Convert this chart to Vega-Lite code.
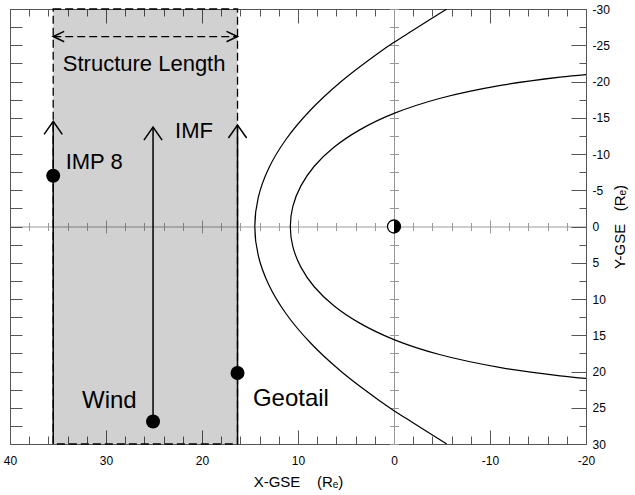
{
  "$schema": "https://vega.github.io/schema/vega-lite/v6.json",
  "width": 576,
  "height": 435,
  "autosize": "none",
  "padding": {"left": 10, "top": 9, "right": 49, "bottom": 51},
  "background": "white",
  "config": {
    "view": {"stroke": null},
    "font": "Liberation Sans",
    "axis": {
      "grid": false,
      "domainColor": "#555",
      "tickColor": "#555",
      "labelColor": "black",
      "titleColor": "black",
      "labelFont": "Liberation Sans",
      "titleFont": "Liberation Sans",
      "labelFontSize": 12,
      "titleFontSize": 15,
      "titleFontWeight": "normal",
      "labelFlush": false,
      "labelOverlap": false,
      "domainWidth": 1,
      "tickWidth": 1
    }
  },
  "datasets": {
    "region": [{"x1": 35.5, "x2": 16.3, "y1": -30, "y2": 30}],
    "span": [{"x1": 35.5, "x2": 16.3, "y": -26.2}],
    "lines": [
      {"name": "IMP 8", "x": 35.5, "y1": 30, "y2": -14.5},
      {"name": "Wind", "x": 25.1, "y1": 26.9, "y2": -13.7},
      {"name": "Geotail", "x": 16.3, "y1": 30, "y2": -14.0}
    ],
    "sats": [
      {"name": "IMP 8", "x": 35.5, "y": -7.0},
      {"name": "Wind", "x": 25.1, "y": 26.9},
      {"name": "Geotail", "x": 16.3, "y": 20.2}
    ],
    "earth": [{"x": 0, "y": 0}],
    "labels": [
      {"label": "Structure Length", "x": 34.5, "y": -21.4},
      {"label": "IMP 8", "x": 34.2, "y": -8.0},
      {"label": "IMF", "x": 22.8, "y": -12.2},
      {"label": "Wind", "x": 32.5, "y": 25.0},
      {"label": "Geotail", "x": 14.7, "y": 24.8}
    ],
    "curves": [
      {"curve": "bow", "x": -5.5, "y": -30},
      {"curve": "bow", "x": -1.9, "y": -27},
      {"curve": "bow", "x": 0, "y": -25.4},
      {"curve": "bow", "x": 1.54, "y": -24},
      {"curve": "bow", "x": 5.5, "y": -20},
      {"curve": "bow", "x": 8.74, "y": -16},
      {"curve": "bow", "x": 11.26, "y": -12},
      {"curve": "bow", "x": 13.06, "y": -8},
      {"curve": "bow", "x": 14.14, "y": -4},
      {"curve": "bow", "x": 14.5, "y": 0},
      {"curve": "bow", "x": 14.14, "y": 4},
      {"curve": "bow", "x": 13.06, "y": 8},
      {"curve": "bow", "x": 11.26, "y": 12},
      {"curve": "bow", "x": 8.74, "y": 16},
      {"curve": "bow", "x": 5.5, "y": 20},
      {"curve": "bow", "x": 1.54, "y": 24},
      {"curve": "bow", "x": 0, "y": 25.4},
      {"curve": "bow", "x": -1.9, "y": 27},
      {"curve": "bow", "x": -5.5, "y": 30},
      {"curve": "mp", "x": -20, "y": -20.95},
      {"curve": "mp", "x": -17.3, "y": -20.6},
      {"curve": "mp", "x": -11.26, "y": -19.5},
      {"curve": "mp", "x": -4.73, "y": -17.66},
      {"curve": "mp", "x": 0, "y": -15.6},
      {"curve": "mp", "x": 3.57, "y": -13.33},
      {"curve": "mp", "x": 6.29, "y": -10.89},
      {"curve": "mp", "x": 8.31, "y": -8.31},
      {"curve": "mp", "x": 9.7, "y": -5.6},
      {"curve": "mp", "x": 10.53, "y": -2.82},
      {"curve": "mp", "x": 10.8, "y": 0},
      {"curve": "mp", "x": 10.53, "y": 2.82},
      {"curve": "mp", "x": 9.7, "y": 5.6},
      {"curve": "mp", "x": 8.31, "y": 8.31},
      {"curve": "mp", "x": 6.29, "y": 10.89},
      {"curve": "mp", "x": 3.57, "y": 13.33},
      {"curve": "mp", "x": 0, "y": 15.6},
      {"curve": "mp", "x": -4.73, "y": 17.66},
      {"curve": "mp", "x": -11.26, "y": 19.5},
      {"curve": "mp", "x": -17.3, "y": 20.6},
      {"curve": "mp", "x": -20, "y": 20.95}
    ]
  },
  "layer": [
    {
      "data": {"name": "region"},
      "mark": {"type": "rect", "fill": "black", "fillOpacity": 0.18, "stroke": "black", "strokeWidth": 1.3, "strokeDash": [8, 4]},
      "encoding": {
        "x": {"field": "x1", "type": "quantitative", "scale": {"domain": [40, -20], "nice": false, "zero": false},
          "axis": {"orient": "bottom", "values": [40, 30, 20, 10, 0, -10, -20], "tickSize": -14, "labelPadding": 25,
            "labelExpr": "datum.value < 0 ? '-' + (-datum.value) : '' + datum.value",
            "title": "X-GSE\u00a0\u00a0\u00a0\u00a0(Rₑ)", "titlePadding": 8}},
        "x2": {"field": "x2"},
        "y": {"field": "y1", "type": "quantitative", "scale": {"domain": [30, -30], "nice": false, "zero": false},
          "axis": {"orient": "right", "values": [-30, -25, -20, -15, -10, -5, 0, 5, 10, 15, 20, 25, 30], "tickSize": -15, "labelPadding": 21,
            "labelExpr": "datum.value < 0 ? '-' + (-datum.value) : '' + datum.value",
            "title": "Y-GSE\u00a0\u00a0\u00a0(Rₑ)", "titleAngle": -90, "titleBaseline": "top", "titlePadding": 3}},
        "y2": {"field": "y2"}
      }
    },
    {
      "data": {"name": "span"},
      "mark": {"type": "rule", "color": "black", "strokeWidth": 1.2, "strokeDash": [8, 4]},
      "encoding": {
        "x": {"field": "x1", "type": "quantitative", "scale": {"domain": [40, -20], "nice": false, "zero": false},
          "axis": {"orient": "bottom", "values": [38, 36, 34, 32, 28, 26, 24, 22, 18, 16, 14, 12, 8, 6, 4, 2, -2, -4, -6, -8, -12, -14, -16, -18], "tickSize": -8, "labels": false, "domain": false, "title": null}},
        "x2": {"field": "x2"},
        "y": {"field": "y", "type": "quantitative", "scale": {"domain": [30, -30], "nice": false, "zero": false},
          "axis": {"orient": "right", "values": [-27.5, -22.5, -17.5, -12.5, -7.5, -2.5, 2.5, 7.5, 12.5, 17.5, 22.5, 27.5], "tickSize": -7, "labels": false, "domain": false, "title": null}}
      }
    },
    {
      "data": {"name": "curves"},
      "mark": {"type": "line", "color": "black", "strokeWidth": 1.2, "interpolate": "catmull-rom", "clip": true},
      "encoding": {
        "x": {"field": "x", "type": "quantitative", "scale": {"domain": [40, -20], "nice": false, "zero": false},
          "axis": {"orient": "top", "values": [40, 30, 20, 10, 0, -10, -20], "tickSize": -14, "labels": false, "title": null}},
        "y": {"field": "y", "type": "quantitative", "scale": {"domain": [30, -30], "nice": false, "zero": false},
          "axis": {"orient": "left", "values": [-30, -27.5, -25, -22.5, -20, -17.5, -15, -12.5, -10, -7.5, -5, -2.5, 0, 2.5, 5, 7.5, 10, 12.5, 15, 17.5, 20, 22.5, 25, 27.5, 30], "tickSize": -12, "labels": false, "title": null}},
        "detail": {"field": "curve"},
        "order": {"field": "y", "type": "quantitative"}
      }
    },
    {
      "data": {"name": "lines"},
      "mark": {"type": "rule", "color": "black", "strokeWidth": 1.5},
      "encoding": {
        "x": {"field": "x", "type": "quantitative", "scale": {"domain": [40, -20], "nice": false, "zero": false},
          "axis": {"orient": "top", "values": [38, 36, 34, 32, 28, 26, 24, 22, 18, 16, 14, 12, 8, 6, 4, 2, -2, -4, -6, -8, -12, -14, -16, -18], "tickSize": -7, "labels": false, "domain": false, "title": null}},
        "y": {"field": "y1", "type": "quantitative", "scale": {"domain": [30, -30], "nice": false, "zero": false},
          "axis": {"orient": "left", "offset": {"expr": "-width*2/3"}, "values": [-30, -27.5, -25, -22.5, -20, -17.5, -15, -12.5, -10, -7.5, -5, -2.5, 0, 2.5, 5, 7.5, 10, 12.5, 15, 17.5, 20, 22.5, 25, 27.5, 30], "tickSize": 4.5, "labels": false, "domainColor": "#999", "tickColor": "#999", "title": null}},
        "y2": {"field": "y2"}
      }
    },
    {
      "data": {"name": "lines"},
      "mark": {"type": "point", "shape": "M -0.7 1 L 0 0 L 0.7 1", "filled": false, "color": "black", "size": 676, "strokeWidth": 1.5, "opacity": 1},
      "encoding": {
        "x": {"field": "x", "type": "quantitative", "scale": {"domain": [40, -20], "nice": false, "zero": false},
          "axis": {"orient": "bottom", "offset": {"expr": "-height/2"}, "values": [38, 36, 34, 32, 28, 26, 24, 22, 18, 16, 14, 12, 8, 6, 4, 2, -2, -4, -6, -8, -12, -14, -16, -18], "tickSize": 4, "labels": false, "domainColor": "#999", "tickColor": "#999", "title": null}},
        "y": {"field": "y2", "type": "quantitative", "scale": {"domain": [30, -30], "nice": false, "zero": false},
          "axis": {"orient": "left", "offset": {"expr": "-width*2/3"}, "values": [-30, -27.5, -25, -22.5, -20, -17.5, -15, -12.5, -10, -7.5, -5, -2.5, 0, 2.5, 5, 7.5, 10, 12.5, 15, 17.5, 20, 22.5, 25, 27.5, 30], "tickSize": -4.5, "labels": false, "domain": false, "tickColor": "#999", "title": null}}
      }
    },
    {
      "data": {"name": "span"},
      "mark": {"type": "point", "shape": "M 1 -0.47 L 0 0 L 1 0.47", "filled": false, "color": "black", "size": 484, "strokeWidth": 1.5, "opacity": 1},
      "encoding": {
        "x": {"field": "x1", "type": "quantitative", "scale": {"domain": [40, -20], "nice": false, "zero": false},
          "axis": {"orient": "bottom", "offset": {"expr": "-height/2"}, "values": [38, 36, 34, 32, 28, 26, 24, 22, 18, 16, 14, 12, 8, 6, 4, 2, -2, -4, -6, -8, -12, -14, -16, -18], "tickSize": -4, "labels": false, "domain": false, "tickColor": "#999", "title": null}},
        "y": {"field": "y", "type": "quantitative", "scale": {"domain": [30, -30], "nice": false, "zero": false}, "axis": null}
      }
    },
    {
      "data": {"name": "span"},
      "mark": {"type": "point", "shape": "M -1 -0.47 L 0 0 L -1 0.47", "filled": false, "color": "black", "size": 484, "strokeWidth": 1.5, "opacity": 1},
      "encoding": {
        "x": {"field": "x2", "type": "quantitative", "scale": {"domain": [40, -20], "nice": false, "zero": false},
          "axis": {"orient": "bottom", "offset": {"expr": "-height/2"}, "values": [30, 20, 10, -10], "tickSize": 6.5, "labels": false, "domain": false, "tickColor": "#999", "title": null}},
        "y": {"field": "y", "type": "quantitative", "scale": {"domain": [30, -30], "nice": false, "zero": false}, "axis": null}
      }
    },
    {
      "data": {"name": "sats"},
      "mark": {"type": "point", "shape": "circle", "filled": true, "color": "black", "size": 196, "opacity": 1},
      "encoding": {
        "x": {"field": "x", "type": "quantitative", "scale": {"domain": [40, -20], "nice": false, "zero": false},
          "axis": {"orient": "bottom", "offset": {"expr": "-height/2"}, "values": [30, 20, 10, -10], "tickSize": -6.5, "labels": false, "domain": false, "tickColor": "#999", "title": null}},
        "y": {"field": "y", "type": "quantitative", "scale": {"domain": [30, -30], "nice": false, "zero": false}, "axis": null}
      }
    },
    {
      "data": {"name": "earth"},
      "mark": {"type": "point", "shape": "circle", "filled": true, "fill": "white", "stroke": "black", "strokeWidth": 1.3, "size": 169, "opacity": 1},
      "encoding": {
        "x": {"field": "x", "type": "quantitative", "scale": {"domain": [40, -20], "nice": false, "zero": false}, "axis": null},
        "y": {"field": "y", "type": "quantitative", "scale": {"domain": [30, -30], "nice": false, "zero": false}, "axis": null}
      }
    },
    {
      "data": {"name": "earth"},
      "mark": {"type": "point", "shape": "M 0 -1 L 0.383 -0.924 L 0.707 -0.707 L 0.924 -0.383 L 1 0 L 0.924 0.383 L 0.707 0.707 L 0.383 0.924 L 0 1 Z", "filled": true, "color": "black", "strokeWidth": 0, "size": 169, "opacity": 1},
      "encoding": {
        "x": {"field": "x", "type": "quantitative", "scale": {"domain": [40, -20], "nice": false, "zero": false}, "axis": null},
        "y": {"field": "y", "type": "quantitative", "scale": {"domain": [30, -30], "nice": false, "zero": false}, "axis": null}
      }
    },
    {
      "data": {"name": "labels"},
      "mark": {"type": "text", "align": "left", "baseline": "alphabetic", "color": "black", "font": "Liberation Sans"},
      "encoding": {
        "x": {"field": "x", "type": "quantitative", "scale": {"domain": [40, -20], "nice": false, "zero": false}, "axis": null},
        "y": {"field": "y", "type": "quantitative", "scale": {"domain": [30, -30], "nice": false, "zero": false}, "axis": null},
        "text": {"field": "label"},
        "size": {"condition": {"test": "datum.label === 'Wind' || datum.label === 'Geotail'", "value": 24}, "value": 22}
      }
    }
  ],
  "resolve": {"axis": {"x": "independent", "y": "independent"}}
}
